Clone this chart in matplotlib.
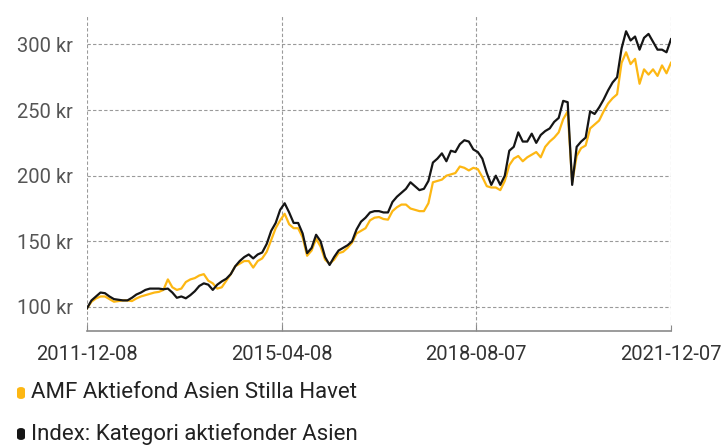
import matplotlib
matplotlib.use("Agg")
import matplotlib.pyplot as plt
from matplotlib.patches import FancyBboxPatch
import pandas as pd

START = "2011-12-08"
END = "2021-12-07"
N_POINTS = 131

FUND_NAME = "AMF Aktiefond Asien Stilla Havet"
INDEX_NAME = "Index: Kategori aktiefonder Asien"

FUND = [
    99, 104, 106.5, 108, 108, 106, 104, 104.5, 105, 105,
    104.5, 106.5, 108, 109, 110, 111, 111.5, 113, 121, 115,
    113, 114, 119, 121, 122, 124, 125, 120, 118, 114,
    115, 120, 125, 131, 133, 135, 135, 130, 135, 137,
    142, 151, 160, 166, 171, 163, 160, 160, 153, 139,
    143, 152, 146, 136, 133, 136, 141, 142, 145, 149,
    156, 158, 160, 166, 168, 168.5, 167, 166.5, 173, 176,
    178, 178, 175, 174, 173, 173, 179, 195, 196, 197,
    200, 201, 202, 207, 206, 204, 206, 205, 199, 192,
    191, 191, 189, 196, 208, 213, 215, 211, 214, 216,
    218, 214, 222, 226, 229, 233, 243, 249, 195, 215,
    221, 223, 236, 239, 242, 249, 255, 259, 262, 286,
    294, 285, 289, 270, 281, 277, 281, 276, 284, 278,
    286,
]

INDEX = [
    99, 105, 108, 111, 110.5, 108, 106, 105.5, 105, 105,
    107, 109.5, 111, 113, 114, 114, 114, 113.5, 114, 111,
    107, 108, 106.6, 109, 112, 116, 118, 117, 113, 117,
    119.5, 121.5, 125, 131, 135, 138, 140, 137, 140, 141.5,
    148, 158, 164, 174, 179, 172, 164, 164, 156, 141,
    145, 155, 150, 138, 132, 138, 143, 145, 147, 150,
    159, 165, 168, 172, 173, 173, 172, 172, 180, 184,
    187, 190, 195, 192, 189, 190, 196, 210, 213, 217,
    211, 219, 218, 224, 227, 226, 220, 218, 213, 202,
    193, 200, 193, 200, 219, 222, 233, 226, 226, 232,
    225, 231, 234, 236, 241, 244, 257, 256, 193, 222,
    226, 229, 249, 247, 252, 258, 265, 271, 275, 297,
    310, 303, 306, 296, 305, 308, 302, 296, 296, 294,
    304,
]

X_TICKS = ["2011-12-08", "2015-04-08", "2018-08-07", "2021-12-07"]
Y_TICKS = [100, 150, 200, 250, 300]

ORANGE = "#FDB713"
BLACK = "#151515"
GRID = "#9a9a9a"
TEXT = "#555555"
FONT_SIZE = 14.5

plt.rcParams["font.family"] = ["Roboto", "DejaVu Sans"]

dates = pd.date_range(START, END, periods=N_POINTS)

fig = plt.figure(figsize=(7.26, 4.46), dpi=100)
ax = fig.add_axes([87 / 726, 1 - 331 / 446, (671 - 87) / 726, (331 - 15) / 446])

ax.plot(dates, FUND, color=ORANGE, lw=1.6, zorder=3)
ax.plot(dates, INDEX, color=BLACK, lw=1.6, zorder=4)

ax.set_xlim(pd.Timestamp(START), pd.Timestamp(END))
ax.set_ylim(81.7, 322.4)

ax.set_xticks(pd.to_datetime(X_TICKS))
ax.set_xticklabels(X_TICKS)
ax.set_yticks(Y_TICKS)
ax.set_yticklabels([f"{v} kr" for v in Y_TICKS])

ax.grid(True, color=GRID, linestyle=(0, (3, 2)), linewidth=0.8)
for s in ("top", "right", "left"):
    ax.spines[s].set_visible(False)
ax.spines["bottom"].set_color("#8a8a8a")
ax.spines["bottom"].set_linewidth(1.2)

ax.tick_params(axis="y", length=0, pad=10, labelsize=FONT_SIZE, labelcolor=TEXT)
ax.tick_params(axis="x", direction="in", length=4, color="#8a8a8a",
               pad=10, labelsize=FONT_SIZE, labelcolor="#333333")

# legend below the plot
for (y, color, name) in [(393, ORANGE, FUND_NAME), (434, BLACK, INDEX_NAME)]:
    fig.patches.append(FancyBboxPatch(
        (17 / 726, 1 - (y + 6) / 446), 8 / 726, 12 / 446,
        boxstyle="round,pad=0,rounding_size=0.006",
        transform=fig.transFigure, facecolor=color, edgecolor="none"))
    fig.text(31 / 726, 1 - y / 446, name, fontsize=16,
             color="#222222", va="center", ha="left")

fig.savefig("out.png", dpi=100)
